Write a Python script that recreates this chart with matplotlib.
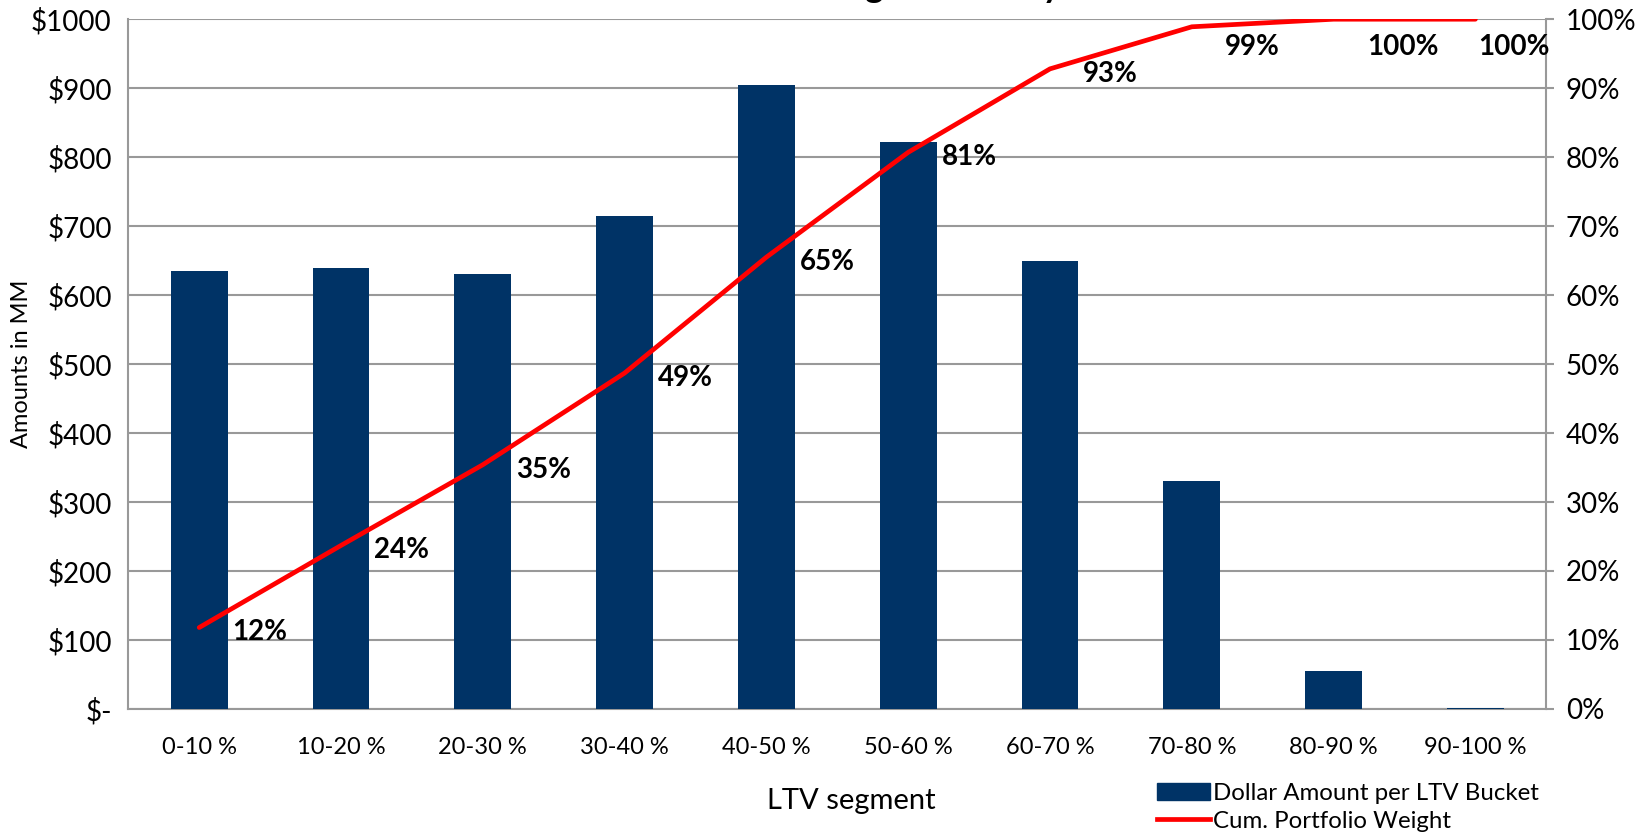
import matplotlib
matplotlib.use('Agg')
import matplotlib.pyplot as plt
from matplotlib.patches import Patch
from matplotlib.lines import Line2D
from matplotlib.ticker import FuncFormatter, PercentFormatter

plt.rcParams['font.family'] = ['Lato', 'DejaVu Sans']

# data
segments = ['0-10 %', '10-20 %', '20-30 %', '30-40 %', '40-50 %',
            '50-60 %', '60-70 %', '70-80 %', '80-90 %', '90-100 %']
amounts = [635, 640, 630, 715, 905, 822, 650, 330, 55, 2]
cum_weight = [0.118, 0.237, 0.354, 0.487, 0.655, 0.807, 0.928, 0.989, 1.0, 1.0]
cum_labels = ['12%', '24%', '35%', '49%', '65%', '81%', '93%', '99%', '100%', '100%']

navy = '#003366'
grid_gray = '#999999'

fig = plt.figure(figsize=(16.45, 8.35), dpi=100)
ax = fig.add_axes([0.078, 0.151, 0.862, 0.826])
x = list(range(len(segments)))
ax.bar(x, amounts, width=0.4, color=navy, zorder=3)
ax.set_xlim(-0.5, len(segments) - 0.5)
ax.set_ylim(0, 1000)
ax.set_yticks(range(0, 1001, 100))
ax.yaxis.set_major_formatter(FuncFormatter(lambda v, p: '$-' if v == 0 else f'${int(v)}'))
ax.set_xticks(x)
ax.set_xticklabels(segments)
ax.grid(axis='y', color=grid_gray, linewidth=1.5, zorder=0)
ax.tick_params(axis='y', length=0, labelsize=20, pad=12)
ax.tick_params(axis='x', length=0, labelsize=17, pad=20)
for s in ['left', 'bottom', 'right', 'top']:
    ax.spines[s].set_color(grid_gray)
    ax.spines[s].set_linewidth(1.5)
ax.spines['top'].set_visible(False)
ax.set_ylabel('Amounts in MM', fontsize=17)
ax.yaxis.set_label_coords(-0.068, 0.5)
ax.set_xlabel('LTV segment', fontsize=21, labelpad=26)
ax.xaxis.set_label_coords(0.51, -0.115)

ax2 = ax.twinx()
ax2.plot(x, cum_weight, color='#ff0000', linewidth=3.4, zorder=3, solid_capstyle='round')
ax2.set_ylim(0, 1)
ax2.set_yticks([i / 10 for i in range(11)])
ax2.yaxis.set_major_formatter(PercentFormatter(1.0, decimals=0))
ax2.tick_params(axis='y', length=6, color=grid_gray, width=1.5, labelsize=20, pad=8)
for s in ['left', 'bottom', 'right', 'top']:
    ax2.spines[s].set_visible(False)
last = len(x) - 1
for xi, yi, lab in zip(x, cum_weight, cum_labels):
    dx = 2 if xi == last else 24
    if yi > 0.95:
        # labels at the top are pushed down inside the plot area
        ax2.annotate(lab, (xi, 1.0), xytext=(dx, -11), textcoords='offset points',
                     ha='left', va='top', fontsize=20, fontweight='bold', zorder=4)
    else:
        ax2.annotate(lab, (xi, yi), xytext=(dx, -3.5), textcoords='offset points',
                     ha='left', va='center', fontsize=20, fontweight='bold', zorder=4)

fig.text(0.564, 1.003, 'LTV Segment Analysis', ha='center', va='baseline',
         fontsize=25, fontweight='bold')

handles = [Patch(color=navy), Line2D([0], [0], color='#ff0000', linewidth=3.4)]
fig.legend(handles, ['Dollar Amount per LTV Bucket', 'Cum. Portfolio Weight'],
           loc='lower right', bbox_to_anchor=(0.946, -0.016), frameon=False,
           fontsize=17.3, handlelength=2.2, handletextpad=0.15, labelspacing=0.27,
           borderpad=0.2)

fig.savefig('out.png', dpi=100)
